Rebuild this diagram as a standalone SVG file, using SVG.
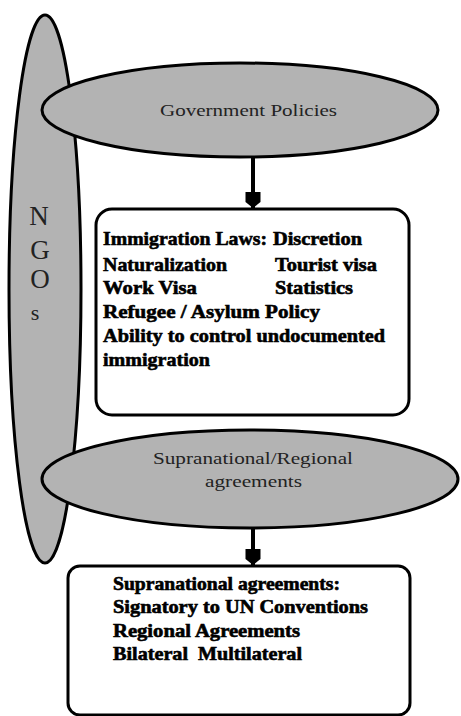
<svg xmlns="http://www.w3.org/2000/svg" width="461" height="716" viewBox="0 0 461 716">
<style>
.ell{fill:#b3b3b3;stroke:#000;stroke-width:3}
.box{fill:#fff;stroke:#000;stroke-width:3}
.et{font-family:"Liberation Serif","Times New Roman",serif;font-size:17px;fill:#222}
.bt{font-family:"Liberation Serif","Times New Roman",serif;font-size:19px;font-weight:bold;fill:#000;stroke:#000;stroke-width:0.6}
.ng{font-family:"Liberation Serif","Times New Roman",serif;font-size:27px;fill:#222;text-anchor:middle}
.conn{stroke:#000;stroke-width:4;fill:none}
</style>
<defs>
<marker id="ah" markerWidth="16" markerHeight="16" refX="16" refY="8" orient="auto" markerUnits="userSpaceOnUse" viewBox="0 0 16 16">
<path d="M0,0.5 L10,0.5 L16,8 L10,15.5 L0,15.5 z" fill="#000"/>
</marker>
</defs>
<rect width="461" height="716" fill="#fff"/>
<g id="ngos">
<ellipse class="ell" cx="45" cy="289" rx="36" ry="274"/>
<text class="ng" x="39" y="225">N</text>
<text class="ng" x="40" y="259">G</text>
<text class="ng" x="40" y="288">O</text>
<text class="ng" x="35" y="320" style="font-size:22px">s</text>
</g>
<g id="gov">
<ellipse class="ell" cx="240" cy="110" rx="198" ry="47"/>
<text class="et" x="160" y="116" textLength="177" lengthAdjust="spacingAndGlyphs">Government Policies</text>
</g>
<g id="box1">
<rect class="box" x="96" y="209" width="313" height="206" rx="16"/>
<text class="bt" x="103" y="245" textLength="164" lengthAdjust="spacingAndGlyphs">Immigration Laws:</text>
<text class="bt" x="273" y="245" textLength="89" lengthAdjust="spacingAndGlyphs">Discretion</text>
<text class="bt" x="103" y="271" textLength="124" lengthAdjust="spacingAndGlyphs">Naturalization</text>
<text class="bt" x="275" y="271" textLength="102" lengthAdjust="spacingAndGlyphs">Tourist visa</text>
<text class="bt" x="103" y="294" textLength="94" lengthAdjust="spacingAndGlyphs">Work Visa</text>
<text class="bt" x="275" y="294" textLength="78" lengthAdjust="spacingAndGlyphs">Statistics</text>
<text class="bt" x="103" y="318" textLength="217" lengthAdjust="spacingAndGlyphs">Refugee / Asylum Policy</text>
<text class="bt" x="103" y="342" textLength="282" lengthAdjust="spacingAndGlyphs">Ability to control undocumented</text>
<text class="bt" x="103" y="366" textLength="107" lengthAdjust="spacingAndGlyphs">immigration</text>
</g>
<g id="supra">
<ellipse class="ell" cx="250" cy="479" rx="208" ry="49"/>
<text class="et" x="153" y="464" textLength="200" lengthAdjust="spacingAndGlyphs">Supranational/Regional</text>
<text class="et" x="205" y="487" textLength="97" lengthAdjust="spacingAndGlyphs">agreements</text>
</g>
<g id="box2">
<rect class="box" x="68" y="566" width="342" height="149" rx="12"/>
<text class="bt" x="113" y="590" style="font-size:18px" textLength="227" lengthAdjust="spacingAndGlyphs">Supranational agreements:</text>
<text class="bt" x="113" y="613" style="font-size:18px" textLength="255" lengthAdjust="spacingAndGlyphs">Signatory to UN Conventions</text>
<text class="bt" x="113" y="637" style="font-size:18px" textLength="187" lengthAdjust="spacingAndGlyphs">Regional Agreements</text>
<text class="bt" x="113" y="660" style="font-size:18px" textLength="75" lengthAdjust="spacingAndGlyphs">Bilateral</text>
<text class="bt" x="198" y="660" style="font-size:18px" textLength="104" lengthAdjust="spacingAndGlyphs">Multilateral</text>
</g>
<g id="connectors">
<line class="conn" x1="253" y1="157" x2="253" y2="208" marker-end="url(#ah)"/>
<line class="conn" x1="253" y1="528" x2="253" y2="565" marker-end="url(#ah)"/>
</g>
</svg>
